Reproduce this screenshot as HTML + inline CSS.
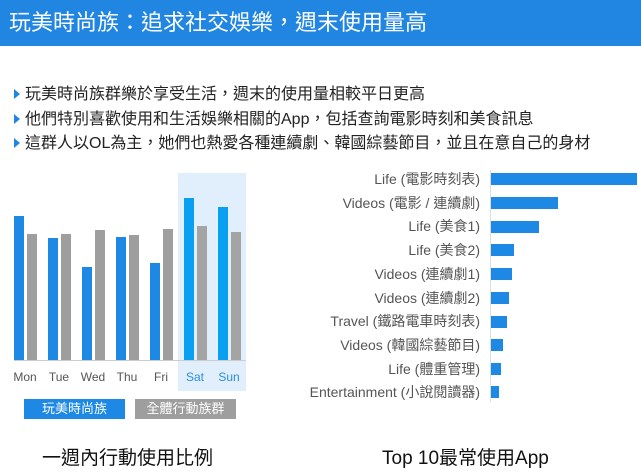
<!DOCTYPE html>
<html><head><meta charset="utf-8"><style>
body{margin:0;width:641px;height:472px;background:#fff;position:relative;overflow:hidden;font-family:"Liberation Sans","Noto Sans CJK TC",sans-serif;}
.hd{position:absolute;left:0;top:0;width:641px;height:46px;background:#2185e2;color:#fff;font-size:22px;line-height:46px;padding-left:9px;box-sizing:border-box;}
.b{position:absolute;left:14px;font-size:16px;color:#222;white-space:nowrap;}
.b:before{content:"";display:inline-block;border-left:6px solid #2185e2;border-top:5px solid transparent;border-bottom:5px solid transparent;margin-right:5px;vertical-align:0px;}
.r{position:absolute;}
.lab{position:absolute;right:161px;font-size:14px;color:#555;white-space:nowrap;line-height:14px;}
.d{position:absolute;top:370px;font-size:12px;color:#555;width:34px;text-align:center;}
.t{position:absolute;font-size:19px;color:#111;white-space:nowrap;}
</style></head><body>
<div class="hd">玩美時尚族：追求社交娛樂，週末使用量高</div>
<div class="b" style="top:80px">玩美時尚族群樂於享受生活，週末的使用量相較平日更高</div>
<div class="b" style="top:105px">他們特別喜歡使用和生活娛樂相關的App，包括查詢電影時刻和美食訊息</div>
<div class="b" style="top:129px">這群人以OL為主，她們也熱愛各種連續劇、韓國綜藝節目，並且在意自己的身材</div>

<div class="r" style="left:178px;top:173px;width:68px;height:218px;background:#e1eefb"></div>
<div class="r" style="left:14px;top:360px;width:232px;height:1px;background:#ccc"></div>
<div class="r" style="left:14px;top:216px;width:10px;height:144px;background:#1e88e5"></div>
<div class="r" style="left:27px;top:234px;width:10px;height:126px;background:#9e9e9e"></div>
<div class="r" style="left:48px;top:238px;width:10px;height:122px;background:#1e88e5"></div>
<div class="r" style="left:61px;top:234px;width:10px;height:126px;background:#9e9e9e"></div>
<div class="r" style="left:82px;top:267px;width:10px;height:93px;background:#1e88e5"></div>
<div class="r" style="left:95px;top:230px;width:10px;height:130px;background:#9e9e9e"></div>
<div class="r" style="left:116px;top:237px;width:10px;height:123px;background:#1e88e5"></div>
<div class="r" style="left:129px;top:235px;width:10px;height:125px;background:#9e9e9e"></div>
<div class="r" style="left:150px;top:263px;width:10px;height:97px;background:#1e88e5"></div>
<div class="r" style="left:163px;top:229px;width:10px;height:131px;background:#9e9e9e"></div>
<div class="r" style="left:184px;top:198px;width:10px;height:162px;background:#0aa0f2"></div>
<div class="r" style="left:197px;top:226px;width:10px;height:134px;background:#a4a4a4"></div>
<div class="r" style="left:218px;top:207px;width:10px;height:153px;background:#0aa0f2"></div>
<div class="r" style="left:231px;top:232px;width:10px;height:128px;background:#a4a4a4"></div>
<div class="d" style="left:8px">Mon</div><div class="d" style="left:42px">Tue</div><div class="d" style="left:76px">Wed</div><div class="d" style="left:110px">Thu</div><div class="d" style="left:144px">Fri</div><div class="d" style="left:178px;color:#2a8ee0">Sat</div><div class="d" style="left:212px;color:#2a8ee0">Sun</div>
<div class="r" style="left:24px;top:399px;width:101px;height:20px;background:#1e88e5;color:#fff;font-size:13px;line-height:20px;text-align:center">玩美時尚族</div>
<div class="r" style="left:135px;top:399px;width:101px;height:20px;background:#9e9e9e;color:#fff;font-size:13px;line-height:20px;text-align:center">全體行動族群</div>

<div class="r" style="left:490px;top:170px;width:1px;height:232px;background:#ddd"></div>
<div class="lab" style="top:172px">Life (電影時刻表)</div><div class="r" style="left:491px;top:173px;width:146px;height:12px;background:#1e88e5"></div>
<div class="lab" style="top:196px">Videos (電影 / 連續劇)</div><div class="r" style="left:491px;top:197px;width:67px;height:12px;background:#1e88e5"></div>
<div class="lab" style="top:219px">Life (美食1)</div><div class="r" style="left:491px;top:221px;width:48px;height:12px;background:#1e88e5"></div>
<div class="lab" style="top:243px">Life (美食2)</div><div class="r" style="left:491px;top:244px;width:23px;height:12px;background:#1e88e5"></div>
<div class="lab" style="top:267px">Videos (連續劇1)</div><div class="r" style="left:491px;top:268px;width:21px;height:12px;background:#1e88e5"></div>
<div class="lab" style="top:291px">Videos (連續劇2)</div><div class="r" style="left:491px;top:292px;width:18px;height:12px;background:#1e88e5"></div>
<div class="lab" style="top:314px">Travel (鐵路電車時刻表)</div><div class="r" style="left:491px;top:316px;width:16px;height:12px;background:#1e88e5"></div>
<div class="lab" style="top:338px">Videos (韓國綜藝節目)</div><div class="r" style="left:491px;top:339px;width:12px;height:12px;background:#1e88e5"></div>
<div class="lab" style="top:362px">Life (體重管理)</div><div class="r" style="left:491px;top:363px;width:10px;height:12px;background:#1e88e5"></div>
<div class="lab" style="top:385px">Entertainment (小說閱讀器)</div><div class="r" style="left:491px;top:386px;width:8px;height:12px;background:#1e88e5"></div>

<div class="t" style="left:42px;top:443px">一週內行動使用比例</div>
<div class="t" style="left:382px;top:443px">Top 10最常使用App</div>
</body></html>
